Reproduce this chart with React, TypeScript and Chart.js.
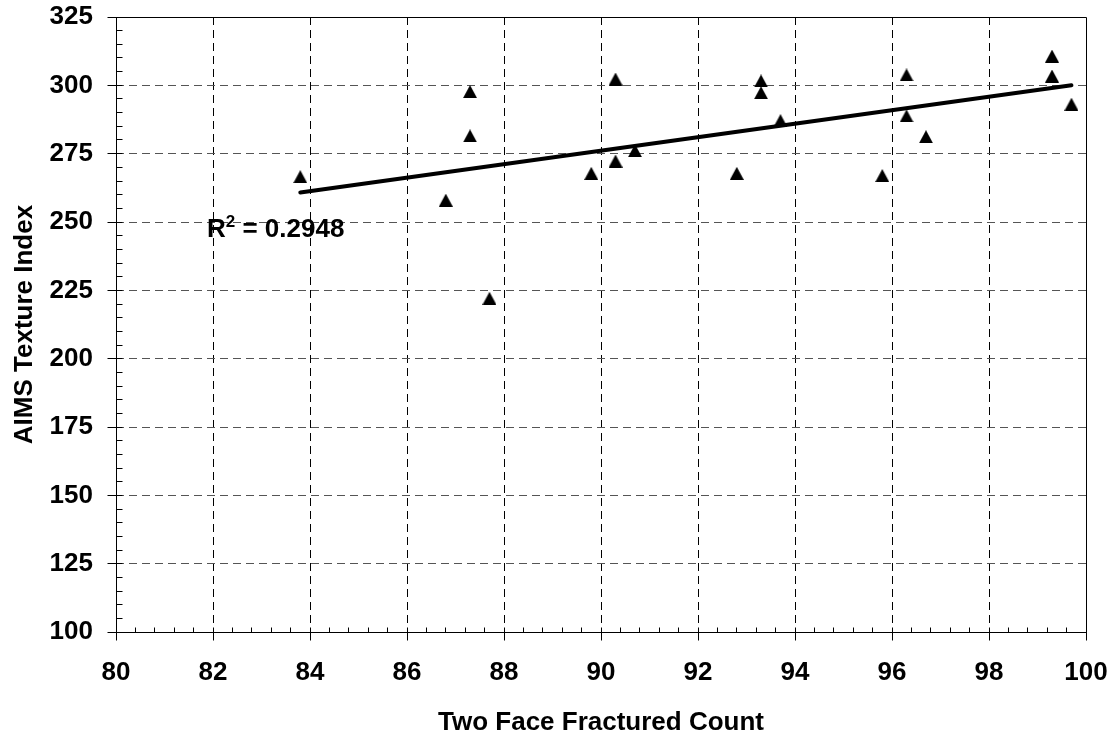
import React, { useEffect, useRef } from 'react';
import { Chart, registerables } from 'chart.js';

Chart.register(...registerables);

// ---- data ----
const fracturedCount = [83.8, 86.8, 87.3, 87.3, 87.7, 89.8, 90.3, 90.3, 90.7, 92.8, 93.3, 93.3, 93.7, 95.8, 96.3, 96.3, 96.7, 99.3, 99.3, 99.7];
const textureIndex = [266.6, 258.0, 297.7, 281.5, 222.1, 267.8, 302.3, 272.3, 276.1, 267.8, 301.6, 297.3, 287.1, 267.0, 303.8, 288.8, 281.2, 310.7, 303.4, 293.1];
const xTickValues = [80, 82, 84, 86, 88, 90, 92, 94, 96, 98, 100];
const yTickValues = [100, 125, 150, 175, 200, 225, 250, 275, 300, 325];
const xTitle = 'Two Face Fractured Count';
const yTitle = 'AIMS Texture Index';
const rSquaredText = ' = 0.2948';

const FONT = '"Liberation Sans", Arial, sans-serif';

function regression(xs: number[], ys: number[]) {
  const n = xs.length;
  const mx = xs.reduce((s, v) => s + v, 0) / n;
  const my = ys.reduce((s, v) => s + v, 0) / n;
  let sxy = 0, sxx = 0;
  for (let i = 0; i < n; i++) {
    sxy += (xs[i] - mx) * (ys[i] - my);
    sxx += (xs[i] - mx) * (xs[i] - mx);
  }
  const slope = sxy / sxx;
  return { slope, intercept: my - slope * mx };
}

function makeTriangle(): HTMLCanvasElement {
  const c = document.createElement('canvas');
  c.width = 14;
  c.height = 13;
  const g = c.getContext('2d')!;
  g.fillStyle = '#000';
  g.beginPath();
  g.moveTo(7, 0);
  g.lineTo(14, 13);
  g.lineTo(0, 13);
  g.closePath();
  g.fill();
  return c;
}

const zeroPadding = (s: any) => {
  s.paddingTop = 0;
  s.paddingBottom = 0;
  s.paddingLeft = 0;
  s.paddingRight = 0;
};

const framePlugin = {
  id: 'frame',
  beforeDatasetsDraw(chart: any) {
    const { ctx, chartArea: a, scales } = chart;
    const x = scales.x, y = scales.y;
    ctx.save();
    ctx.lineWidth = 1;
    ctx.setLineDash([8, 5]);
    ctx.strokeStyle = '#000';
    xTickValues.slice(1, -1).forEach((v) => {
      const px = Math.floor(x.getPixelForValue(v)) + 0.5;
      ctx.beginPath();
      ctx.moveTo(px, a.top);
      ctx.lineTo(px, a.bottom);
      ctx.stroke();
    });
    ctx.strokeStyle = '#555';
    yTickValues.slice(1, -1).forEach((v) => {
      const py = Math.floor(y.getPixelForValue(v)) + 0.5;
      ctx.beginPath();
      ctx.moveTo(a.left, py);
      ctx.lineTo(a.right, py);
      ctx.stroke();
    });
    ctx.restore();
  },
  afterDraw(chart: any) {
    const { ctx, chartArea: a, scales } = chart;
    const x = scales.x, y = scales.y;
    const L = Math.floor(a.left) + 0.5;
    const R = Math.floor(a.right) + 0.5;
    const T = Math.floor(a.top) + 0.5;
    const B = Math.floor(a.bottom) + 0.5;
    ctx.save();
    ctx.lineWidth = 1;
    ctx.strokeStyle = '#000';
    ctx.setLineDash([]);
    ctx.beginPath();
    ctx.rect(L, T, R - L, B - T);
    ctx.stroke();
    ctx.beginPath();
    xTickValues.forEach((v) => {
      const px = Math.floor(x.getPixelForValue(v)) + 0.5;
      ctx.moveTo(px, B - 5);
      ctx.lineTo(px, B + 8);
    });
    for (let i = 0; i < xTickValues.length - 1; i++) {
      for (let k = 1; k < 5; k++) {
        const v = xTickValues[i] + ((xTickValues[i + 1] - xTickValues[i]) * k) / 5;
        const px = Math.floor(x.getPixelForValue(v)) + 0.5;
        ctx.moveTo(px, B);
        ctx.lineTo(px, B - 5);
      }
    }
    yTickValues.forEach((v) => {
      const py = Math.floor(y.getPixelForValue(v)) + 0.5;
      ctx.moveTo(L - 9, py);
      ctx.lineTo(L + 6, py);
    });
    for (let i = 0; i < yTickValues.length - 1; i++) {
      for (let k = 1; k < 5; k++) {
        const v = yTickValues[i] + ((yTickValues[i + 1] - yTickValues[i]) * k) / 5;
        const py = Math.floor(y.getPixelForValue(v)) + 0.5;
        ctx.moveTo(L, py);
        ctx.lineTo(L + 6, py);
      }
    }
    ctx.stroke();

    ctx.fillStyle = '#000';
    ctx.font = `bold 26px ${FONT}`;
    ctx.textAlign = 'center';
    ctx.textBaseline = 'alphabetic';
    ctx.fillText(xTitle, (a.left + a.right) / 2, 730);
    ctx.save();
    ctx.translate(32, (a.top + a.bottom) / 2);
    ctx.rotate(-Math.PI / 2);
    ctx.fillText(yTitle, 0, 0);
    ctx.restore();

    ctx.textAlign = 'left';
    let tx = 207;
    const ty = 237;
    ctx.font = `bold 26px ${FONT}`;
    ctx.fillText('R', tx, ty);
    tx += ctx.measureText('R').width;
    ctx.font = `bold 17px ${FONT}`;
    ctx.fillText('2', tx, ty - 10);
    tx += ctx.measureText('2').width;
    ctx.font = `bold 26px ${FONT}`;
    ctx.fillText(rSquaredText, tx, ty);
    ctx.restore();
  },
};

export default function App() {
  const ref = useRef<HTMLCanvasElement>(null);
  useEffect(() => {
    if (!ref.current) return;
    const { slope, intercept } = regression(fracturedCount, textureIndex);
    const xMin = Math.min(...fracturedCount);
    const xMax = Math.max(...fracturedCount);
    const trend = [
      { x: xMin, y: slope * xMin + intercept },
      { x: xMax, y: slope * xMax + intercept },
    ];
    const points = fracturedCount.map((v, i) => ({ x: v, y: textureIndex[i] }));
    const tri = makeTriangle();
    const tickFont = { family: FONT, size: 26, weight: 'bold' as const };
    const chart = new Chart(ref.current, {
      type: 'scatter',
      data: {
        datasets: [
          {
            type: 'line',
            label: 'Trend',
            data: trend,
            borderColor: '#000',
            borderWidth: 4,
            borderCapStyle: 'round',
            pointRadius: 0,
            fill: false,
            order: 0,
          } as any,
          {
            label: 'Data',
            data: points,
            pointStyle: tri as any,
            pointRadius: 7,
            backgroundColor: '#000',
            borderColor: '#000',
            order: 1,
          },
        ],
      },
      options: {
        responsive: false,
        animation: false,
        devicePixelRatio: 1,
        layout: { padding: { left: 0, top: 17, right: 30, bottom: 0 } },
        plugins: { legend: { display: false }, tooltip: { enabled: false }, title: { display: false } },
        scales: {
          x: {
            type: 'linear',
            min: 80,
            max: 100,
            afterBuildTicks: (s: any) => { s.ticks = xTickValues.map((v) => ({ value: v })); },
            afterFit: (s: any) => { s.height = 104; zeroPadding(s); },
            grid: { display: false, drawTicks: false },
            border: { display: false },
            ticks: { color: '#000', font: tickFont, padding: 25, maxRotation: 0, autoSkip: false },
          },
          y: {
            type: 'linear',
            min: 100,
            max: 325,
            afterBuildTicks: (s: any) => { s.ticks = yTickValues.map((v) => ({ value: v })); },
            afterFit: (s: any) => { s.width = 116; zeroPadding(s); },
            grid: { display: false, drawTicks: false },
            border: { display: false },
            ticks: { color: '#000', font: tickFont, padding: 23, autoSkip: false },
          },
        },
      },
      plugins: [framePlugin],
    });
    return () => chart.destroy();
  }, []);
  return (
    <div style={{ position: 'fixed', left: 0, top: 0, width: 1116, height: 736, background: '#fff' }}>
      <canvas ref={ref} width={1116} height={736} style={{ display: 'block' }} />
    </div>
  );
}
